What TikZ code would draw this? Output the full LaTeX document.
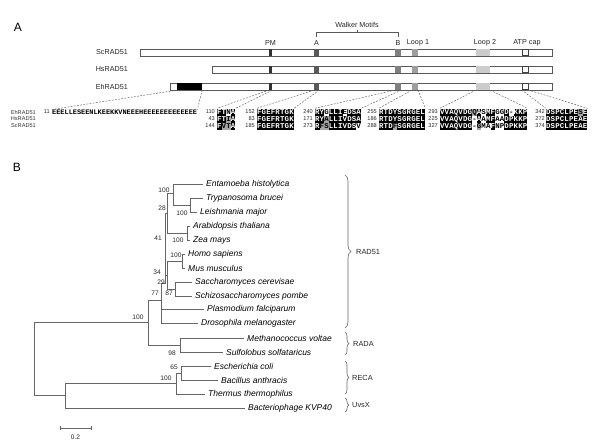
\documentclass[tikz,border=0pt]{standalone}
\usepackage{fontspec}
\setmainfont{Liberation Sans}
\newfontfamily\alnfont{Liberation Mono}
\usetikzlibrary{decorations.pathreplacing}
\tikzset{
  cellbase/.style={inner sep=0pt,minimum width=4.6pt,minimum height=7pt,text height=4.4pt,text depth=0pt,font=\alnfont\bfseries\fontsize{7.4}{7.4}\selectfont},
  cellb/.style={cellbase,fill=black,text=white},
  cellg/.style={cellbase,fill=black!35,text=black},
  cellw/.style={cellbase,text=black},
  num/.style={anchor=east,inner sep=0pt,font=\fontsize{5.6}{6}\selectfont,text=black!85},
  rowlab/.style={anchor=east,inner sep=0pt,font=\fontsize{5.6}{6}\selectfont,text=black!80},
  barlab/.style={anchor=east,inner sep=0pt,font=\fontsize{7.2}{8}\selectfont,text=black!85},
  toplab/.style={inner sep=0pt,font=\fontsize{7.2}{8}\selectfont,text=black!85},
  bar/.style={draw=black!65,line width=0.6pt,fill=white,inner sep=0pt,minimum height=7pt,anchor=north west},
  mk/.style={inner sep=0pt,minimum height=7pt,draw=none},
  dsh/.style={draw=black!65,line width=0.45pt,dash pattern=on 1.8pt off 1.4pt},
  tr/.style={draw=black!60,line width=0.7pt},
  leaf/.style={anchor=west,inner xsep=3pt,inner ysep=0pt,font=\itshape\fontsize{8.5}{9}\selectfont},
  boot/.style={inner sep=0pt,font=\fontsize{6.6}{7}\selectfont,text=black!85},
  grp/.style={anchor=west,inner sep=0pt,font=\fontsize{7.4}{8}\selectfont,text=black!85},
  brc/.style={draw=black!60,line width=0.6pt,decorate,decoration={brace,amplitude=#1}},
  panel/.style={inner sep=0pt,font=\fontsize{12}{12}\selectfont},
}
\newcommand\alnrow[4]{%
  \foreach[count=\i] \st/\ch in {#4}{%
    \node[cell\st] (#1-\i) at ({#2+(\i-0.5)*4.6},#3) {\ch};
  }}
\begin{document}
\begin{tikzpicture}[x=1pt,y=-1pt]
\fill[white] (0,0) rectangle (600,447);
\useasboundingbox (0,0) rectangle (600,447);

% ---------- Panel A ----------
\node[panel] (pA) at (18,27) {A};

\node[bar,minimum width=412pt] (sc) at (140,49) {};
\node[bar,minimum width=340pt] (hs) at (212,66) {};
\node[bar,minimum width=382pt] (eh) at (170,83) {};
\node[mk,fill=black,minimum width=25pt] (ehblk) at (189.5,86.5) {};

\node[barlab] (lsc) at (128,52.5) {ScRAD51};
\node[barlab] (lhs) at (128,69.5) {HsRAD51};
\node[barlab] (leh) at (128,86.5) {EhRAD51};

\foreach \b/\yy in {sc/52.5,hs/69.5,eh/86.5}{
  \node[mk,fill=black!80,minimum width=3pt] (pm-\b) at (270.5,\yy) {};
  \node[mk,fill=black!65,minimum width=5pt] (wa-\b) at (316.5,\yy) {};
  \node[mk,fill=black!50,minimum width=6pt] (wb-\b) at (398,\yy) {};
  \node[mk,fill=black!38,minimum width=6pt] (l1-\b) at (415,\yy) {};
  \node[mk,fill=black!20,minimum width=14pt] (l2-\b) at (483,\yy) {};
  \node[mk,draw=black!75,line width=0.5pt,fill=white,minimum width=6pt,minimum height=6.4pt] (atp-\b) at (525,\yy) {};
}

\node[toplab] (tPM) at (270.5,43) {PM};
\node[toplab] (tA) at (316.5,43) {A};
\node[toplab] (tB) at (398,43) {B};
\node[toplab] (tL1) at (418,43) {Loop 1};
\node[toplab] (tL2) at (485,43) {Loop 2};
\node[toplab] (tATP) at (527,43) {ATP cap};
\node[toplab] (tWM) at (357,25) {Walker Motifs};
\draw[draw=black!65,line width=0.5pt] (316.5,36.5) -- (316.5,32) -- (398.5,32) -- (398.5,36.5);
\draw[draw=black!65,line width=0.5pt] (357,32) -- (357,29.5);

% alignment
\node[rowlab] (rE) at (36,112) {EhRAD51};
\node[rowlab] (rH) at (36,119) {HsRAD51};
\node[rowlab] (rS) at (36,126) {ScRAD51};

\node[num] (n0) at (50,112) {11};
\node[anchor=west,inner sep=0pt,font=\alnfont\bfseries\fontsize{6.9}{7}\selectfont] (ehseq) at (52,112) {EEELLESEENLKEEKKVNEEEHEEEEEEEEEEEEE};

% block 1
\node[num] (n1e) at (215,112) {110};
\node[num] (n1h) at (215,119) {43};
\node[num] (n1s) at (215,126) {144};
\alnrow{b1e}{217}{112}{b/F,b/T,w/N,b/A}
\alnrow{b1h}{217}{119}{b/F,b/T,g/I,b/A}
\alnrow{b1s}{217}{126}{b/F,g/V,g/T,b/A}
% block 2
\node[num] (n2e) at (255,112) {152};
\node[num] (n2h) at (255,119) {83};
\node[num] (n2s) at (255,126) {185};
\alnrow{b2e}{257}{112}{b/F,b/G,b/E,b/F,b/R,b/T,b/G,b/K}
\alnrow{b2h}{257}{119}{b/F,b/G,b/E,b/F,b/R,b/T,b/G,b/K}
\alnrow{b2s}{257}{126}{b/F,b/G,b/E,b/F,b/R,b/T,b/G,b/K}
% block 3
\node[num] (n3e) at (313,112) {240};
\node[num] (n3h) at (313,119) {171};
\node[num] (n3s) at (313,126) {273};
\alnrow{b3e}{315}{112}{b/R,b/Y,w/G,b/L,b/L,b/I,w/E,b/D,b/S,b/A}
\alnrow{b3h}{315}{119}{b/R,b/Y,g/A,b/L,b/L,b/I,b/V,b/D,b/S,b/A}
\alnrow{b3s}{315}{126}{b/R,g/F,g/S,b/L,b/L,b/I,b/V,b/D,b/S,w/V}
% block 4
\node[num] (n4e) at (377,112) {255};
\node[num] (n4h) at (377,119) {186};
\node[num] (n4s) at (377,126) {288};
\alnrow{b4e}{379}{112}{b/R,b/T,b/D,b/Y,b/S,b/G,b/R,b/G,b/E,b/L}
\alnrow{b4h}{379}{119}{b/R,b/T,b/D,b/Y,b/S,b/G,b/R,b/G,b/E,b/L}
\alnrow{b4s}{379}{126}{b/R,b/T,b/D,g/F,b/S,b/G,b/R,b/G,b/E,b/L}
% block 5
\node[num] (n5e) at (438,112) {293};
\node[num] (n5h) at (438,119) {225};
\node[num] (n5s) at (438,126) {327};
\alnrow{b5e}{440}{112}{b/V,b/V,b/A,b/Q,b/V,b/D,b/G,g/Q,b/A,w/S,b/M,b/F,w/G,w/G,b/D,w/-,b/K,b/K,b/P}
\alnrow{b5h}{440}{119}{b/V,b/V,b/A,b/Q,b/V,b/D,b/G,w/-,b/A,w/A,b/M,b/F,w/A,w/A,b/D,b/P,b/K,b/K,b/P}
\alnrow{b5s}{440}{126}{b/V,b/V,b/A,b/Q,b/V,b/D,b/G,w/-,g/G,w/M,w/A,b/F,w/N,w/P,b/D,b/P,b/K,b/K,b/P}
% block 6
\node[num] (n6e) at (545,112) {342};
\node[num] (n6h) at (545,119) {272};
\node[num] (n6s) at (545,126) {374};
\alnrow{b6e}{546}{112}{b/D,b/S,b/P,b/C,b/L,b/P,b/E,g/S,b/E}
\alnrow{b6h}{546}{119}{b/D,b/S,b/P,b/C,b/L,b/P,b/E,b/A,b/E}
\alnrow{b6s}{546}{126}{b/D,b/S,b/P,b/C,b/L,b/P,b/E,b/A,b/E}

% dashed connectors
\draw[dsh] (ehblk.south west) -- (ehseq.north west);
\draw[dsh] (ehblk.south east) -- (ehseq.north east);
\draw[dsh] (pm-eh.south west) -- (b1e-1.north west);
\draw[dsh] (pm-eh.south east) -- (b1e-4.north east);
\draw[dsh] (wa-eh.south west) -- (b2e-1.north west);
\draw[dsh] (wa-eh.south east) -- (b2e-8.north east);
\draw[dsh] (wb-eh.south west) -- (b3e-1.north west);
\draw[dsh] (wb-eh.south east) -- (b3e-10.north east);
\draw[dsh] (l1-eh.south west) -- (b4e-1.north west);
\draw[dsh] (l1-eh.south east) -- (b4e-10.north east);
\draw[dsh] (l2-eh.south west) -- (b5e-1.north west);
\draw[dsh] (l2-eh.south east) -- (b5e-19.north east);
\draw[dsh] (atp-eh.south west) -- (b6e-1.north west);
\draw[dsh] (atp-eh.south east) -- (b6e-9.north east);

% ---------- Panel B ----------
\node[panel] (pB) at (17,167) {B};

\node[leaf] (ent) at (203,184) {Entamoeba histolytica};
\node[leaf] (tryp) at (203,198) {Trypanosoma brucei};
\node[leaf] (leish) at (197,212) {Leishmania major};
\node[leaf] (arab) at (190,226) {Arabidopsis thaliana};
\node[leaf] (zea) at (190,240) {Zea mays};
\node[leaf] (homo) at (185,254) {Homo sapiens};
\node[leaf] (mus) at (185,268) {Mus musculus};
\node[leaf] (sacc) at (192,282) {Saccharomyces cerevisae};
\node[leaf] (schizo) at (192,296) {Schizosaccharomyces pombe};
\node[leaf] (plas) at (204,309) {Plasmodium falciparum};
\node[leaf] (dros) at (198,323) {Drosophila melanogaster};
\node[leaf] (meth) at (244,338) {Methanococcus voltae};
\node[leaf] (sulf) at (223,352) {Sulfolobus solfataricus};
\node[leaf] (ecoli) at (211,366) {Escherichia coli};
\node[leaf] (bac) at (218,380) {Bacillus anthracis};
\node[leaf] (therm) at (205,394) {Thermus thermophilus};
\node[leaf] (phage) at (245,408) {Bacteriophage KVP40};

\coordinate (nTL) at (190,205);
\coordinate (nE) at (173,193);
\coordinate (nAZ) at (187,233);
\coordinate (nHM) at (182,261);
\coordinate (nSS) at (175,289);
\coordinate (n28) at (167.5,213);
\coordinate (n29) at (167.5,275);
\coordinate (n34) at (165.5,283);
\coordinate (n77) at (161,300);
\coordinate (nX) at (148,322);
\coordinate (nRA) at (180,345);
\coordinate (root) at (34,358);
\coordinate (nBa) at (65,395);
\coordinate (nRE) at (176,383);
\coordinate (nEB) at (181,373);

\draw[tr] (nTL) |- (tryp.west);
\draw[tr] (nTL) |- (leish.west);
\draw[tr] (nE) |- (ent.west);
\draw[tr] (nE) |- (nTL);
\draw[tr] (n28) |- (nE);
\draw[tr] (n28) |- (nAZ);
\draw[tr] (nAZ) |- (arab.west);
\draw[tr] (nAZ) |- (zea.west);
\draw[tr] (nHM) |- (homo.west);
\draw[tr] (nHM) |- (mus.west);
\draw[tr] (nSS) |- (sacc.west);
\draw[tr] (nSS) |- (schizo.west);
\draw[tr] (n29) |- (nHM);
\draw[tr] (n29) |- (nSS);
\draw[tr] (n34) |- (n28);
\draw[tr] (n34) |- (n29);
\draw[tr] (n77) |- (n34);
\draw[tr] (n77) |- (plas.west);
\draw[tr] (n77) |- (dros.west);
\draw[tr] (nX) |- (n77);
\draw[tr] (nX) |- (nRA);
\draw[tr] (nRA) |- (meth.west);
\draw[tr] (nRA) |- (sulf.west);
\draw[tr] (root) |- (nX);
\draw[tr] (root) |- (nBa);
\draw[tr] (nBa) |- (nRE);
\draw[tr] (nBa) |- (phage.west);
\draw[tr] (nRE) |- (nEB);
\draw[tr] (nRE) |- (therm.west);
\draw[tr] (nEB) |- (ecoli.west);
\draw[tr] (nEB) |- (bac.west);

% bootstrap values
\node[boot] (bs1) at (164,190) {100};
\node[boot] (bs2) at (162,208) {28};
\node[boot] (bs3) at (182,213) {100};
\node[boot] (bs4) at (158,238) {41};
\node[boot] (bs5) at (178,240) {100};
\node[boot] (bs6) at (176,255) {100};
\node[boot] (bs7) at (157,272) {34};
\node[boot] (bs8) at (161,282) {29};
\node[boot] (bs9) at (155,293) {77};
\node[boot] (bs10) at (169,293) {87};
\node[boot] (bs11) at (138,317) {100};
\node[boot] (bs12) at (172,353) {98};
\node[boot] (bs13) at (174,367) {65};
\node[boot] (bs14) at (166,378) {100};

% group braces
\draw[brc=6pt] (345,175) -- (345,328);
\node[grp] (gR51) at (356,252) {RAD51};
\draw[brc=4pt] (345,332) -- (345,355);
\node[grp] (gRADA) at (353,344) {RADA};
\draw[brc=4pt] (345,361) -- (345,394);
\node[grp] (gRECA) at (352,377.5) {RECA};
\draw[brc=4pt] (345,398) -- (345,412);
\node[grp] (gUvsX) at (352,405) {UvsX};

% scale bar
\coordinate (sb1) at (60,428);
\coordinate (sb2) at (91,428);
\draw[tr,line width=0.6pt] (sb1) -- (sb2);
\draw[tr,line width=0.6pt] ([yshift=-2pt]sb1) -- ([yshift=2pt]sb1);
\draw[tr,line width=0.6pt] ([yshift=-2pt]sb2) -- ([yshift=2pt]sb2);
\node[boot] (sbl) at (75.5,437) {0.2};
\end{tikzpicture}
\end{document}
